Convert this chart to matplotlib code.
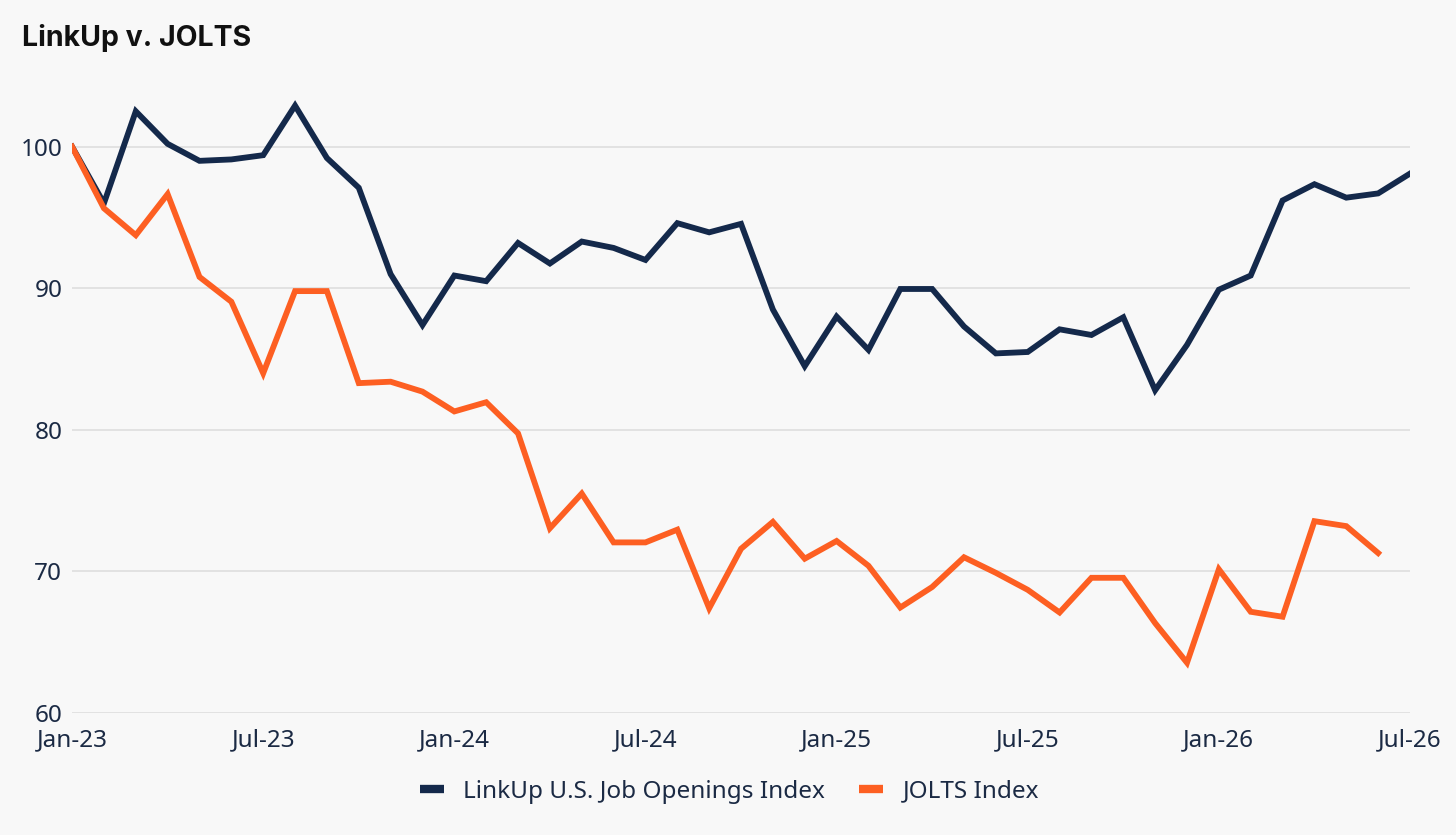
import numpy as np
import matplotlib.pyplot as plt

months = ["Jan-23", "Feb-23", "Mar-23", "Apr-23", "May-23", "Jun-23", "Jul-23",
          "Aug-23", "Sep-23", "Oct-23", "Nov-23", "Dec-23",
          "Jan-24", "Feb-24", "Mar-24", "Apr-24", "May-24", "Jun-24", "Jul-24",
          "Aug-24", "Sep-24", "Oct-24", "Nov-24", "Dec-24",
          "Jan-25", "Feb-25", "Mar-25", "Apr-25", "May-25", "Jun-25", "Jul-25",
          "Aug-25", "Sep-25", "Oct-25", "Nov-25", "Dec-25",
          "Jan-26", "Feb-26", "Mar-26", "Apr-26", "May-26", "Jun-26", "Jul-26"]

linkup = [100.0, 96.0, 102.5, 100.2, 99.0, 99.1, 99.4, 102.9, 99.2, 97.1, 91.0, 87.4,
          90.9, 90.5, 93.2, 91.75, 93.3, 92.85, 92.0, 94.6, 93.95, 94.55, 88.5, 84.5,
          88.0, 85.65, 89.95, 89.95, 87.3, 85.4, 85.5, 87.1, 86.7, 87.95, 82.8, 86.0,
          89.9, 90.9, 96.2, 97.35, 96.4, 96.7, 98.1]

jolts = [100.0, 95.65, 93.75, 96.65, 90.8, 89.05, 84.0, 89.8, 89.8, 83.3, 83.4, 82.7,
         81.3, 81.95, 79.75, 73.05, 75.5, 72.05, 72.05, 72.95, 67.4, 71.6, 73.5, 70.9,
         72.15, 70.4, 67.45, 68.9, 71.0, 69.9, 68.7, 67.1, 69.55, 69.55, 66.35, 63.55,
         70.15, 67.15, 66.8, 73.55, 73.2, 71.3]

y_ticks = [60, 70, 80, 90, 100]

navy = "#14294b"
orange = "#fd5f22"
text_col = "#1b2a44"
bg = "#f8f8f8"

plt.rcParams["font.family"] = ["Noto Sans", "DejaVu Sans"]

fig = plt.figure(figsize=(14.56, 8.35), dpi=100, facecolor=bg)
ax = fig.add_axes([0.0495, 0.1461, 0.9189, 0.763])
ax.set_facecolor(bg)

x_link = np.arange(len(linkup))
x_jolts = np.arange(len(jolts))
ax.plot(x_link, linkup, color=navy, lw=4.2, label="LinkUp U.S. Job Openings Index",
        solid_joinstyle="miter", zorder=3)
ax.plot(x_jolts, jolts, color=orange, lw=4.2, label="JOLTS Index",
        solid_joinstyle="miter", zorder=3)

ax.set_xlim(0, len(months) - 1)
ax.set_ylim(60, 105)
ax.set_yticks(y_ticks)
ax.set_yticklabels([str(v) for v in y_ticks])
ax.set_xticks(np.arange(0, len(months), 6))
ax.set_xticklabels(months[::6])

ax.grid(axis="y", color="#dedede", lw=1.2)
ax.set_axisbelow(True)
for s in ax.spines.values():
    s.set_visible(False)
ax.tick_params(axis="both", length=0, labelsize=17.5, colors=text_col)
ax.tick_params(axis="y", pad=7)
ax.tick_params(axis="x", pad=11)

fig.text(0.015, 0.955, "LinkUp v. JOLTS", fontsize=20.5, fontweight="bold",
         color="#111111", va="center", ha="left", family=["Inter", "DejaVu Sans"])

leg = fig.legend(loc="center", bbox_to_anchor=(0.501, 0.052), ncol=2, frameon=False,
                 fontsize=17.5, handlelength=1.0, handletextpad=0.8, columnspacing=1.4)
for t in leg.get_texts():
    t.set_color(text_col)
for h in leg.get_lines():
    h.set_linewidth(6)
    h.set_solid_capstyle("butt")

fig.savefig("out.png", dpi=100, facecolor=bg)
